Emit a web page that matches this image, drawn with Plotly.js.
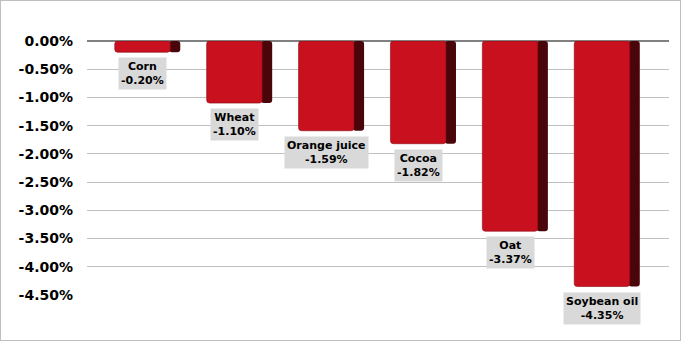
<!DOCTYPE html>
<html><head><meta charset="utf-8">
<script src="https://cdn.plot.ly/plotly-3.0.1.min.js"></script>
<style>
html,body{margin:0;padding:0;background:#fff;}
#chart{width:681px;height:341px;box-sizing:border-box;border:1px solid #BFBFBF;}
</style></head>
<body><div id="chart"></div>
<script>
const categories = ["Corn","Wheat","Orange juice","Cocoa","Oat","Soybean oil"];
const values = [-0.20,-1.10,-1.59,-1.82,-3.37,-4.35];
const valueLabels = ["-0.20%","-1.10%","-1.59%","-1.82%","-3.37%","-4.35%"];
const tickVals = [0,-0.5,-1,-1.5,-2,-2.5,-3,-3.5,-4,-4.5];
const tickText = ["0.00%","-0.50%","-1.00%","-1.50%","-2.00%","-2.50%","-3.00%","-3.50%","-4.00%","-4.50%"];

const idx = categories.map((c,i)=>i);
const FONT = "DejaVu Sans, Tahoma, sans-serif";

const side = {
  type:'bar', x: idx, y: values, base: 0,
  offset: 0.235, width: 0.122,
  marker:{color:'#4A050A', cornerradius:3},
  hoverinfo:'skip', showlegend:false
};
const front = {
  type:'bar', x: idx, y: values, base: 0,
  offset: -0.356, width: 0.604,
  marker:{color:'#C8101E', cornerradius:3, line:{color:'#8A0A14', width:0.6}},
  hoverinfo:'skip', showlegend:false
};

const annotations = idx.map(i=>({
  x: i - 0.054, y: values[i], xref:'x', yref:'y',
  text: '<b>'+categories[i]+'<br>'+valueLabels[i]+'</b>',
  showarrow:false, xanchor:'center', yanchor:'top', yshift:-5,
  bgcolor:'#D9D9D9', borderpad:2,
  font:{family:FONT, size:11, color:'#000'}
}));

const layout = {
  width:679, height:339,
  margin:{l:86, r:11, t:40, b:45, pad:0},
  paper_bgcolor:'#fff', plot_bgcolor:'#fff',
  barmode:'overlay',
  xaxis:{range:[-0.658,5.675], showgrid:false, zeroline:false, showticklabels:false, showline:false, ticks:''},
  yaxis:{range:[-4.5,0], tickvals:tickVals, ticktext:tickText,
    showgrid:true, gridcolor:'#C0C0C0', gridwidth:1,
    zeroline:true, zerolinecolor:'#808080', zerolinewidth:2,
    showline:false, ticks:'', ticklabelstandoff:13,
    tickfont:{family:FONT, size:14, color:'#000', weight:'bold'}},
  annotations: annotations,
  font:{family:FONT}
};
Plotly.newPlot('chart',[side,front],layout,{staticPlot:true,displayModeBar:false});
</script></body></html>
